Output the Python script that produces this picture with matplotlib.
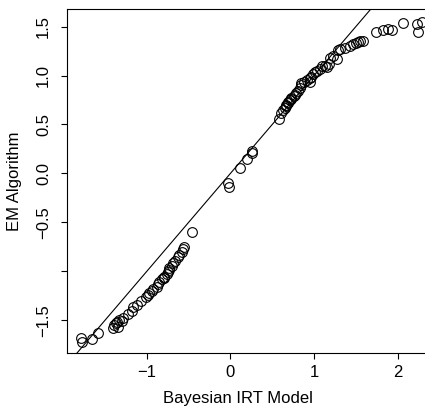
import numpy as np
import matplotlib
matplotlib.use('Agg')
import matplotlib.pyplot as plt

# Ability estimates: Bayesian IRT model vs. EM algorithm
bayes = [-1.79, -1.78, -1.66, -1.59, -1.41, -1.39, -1.35, -1.36, -1.37, -1.33,
         -1.30, -1.29, -1.23, -1.18, -1.16, -1.12, -1.07, -1.01, -0.99, -0.98,
         -0.94, -0.93, -0.88, -0.87, -0.85, -0.82, -0.80, -0.80, -0.76, -0.75,
         -0.74, -0.73, -0.70, -0.69, -0.66, -0.63, -0.61, -0.58, -0.57, -0.55,
         -0.46,
         -0.03, -0.02, 0.11, 0.20, 0.26, 0.26,
         0.58, 0.60, 0.63, 0.65, 0.66, 0.67, 0.69, 0.69, 0.71, 0.72,
         0.73, 0.76, 0.77, 0.79, 0.81, 0.83, 0.84, 0.85, 0.88, 0.91,
         0.95, 0.95, 0.96, 0.99, 1.01, 1.03, 1.07, 1.09, 1.13, 1.15,
         1.18, 1.19, 1.23, 1.27, 1.29, 1.31, 1.37, 1.43, 1.47, 1.50,
         1.53, 1.55, 1.59, 1.74, 1.82, 1.88, 1.93, 2.06, 2.23, 2.24, 2.29]
em = [-1.68, -1.72, -1.69, -1.63, -1.58, -1.55, -1.57, -1.52, -1.53, -1.50,
      -1.51, -1.48, -1.44, -1.41, -1.37, -1.34, -1.30, -1.26, -1.24, -1.22,
      -1.20, -1.18, -1.16, -1.13, -1.11, -1.08, -1.06, -1.07, -1.03, -1.01,
      -0.99, -0.97, -0.95, -0.92, -0.89, -0.85, -0.83, -0.80, -0.77, -0.75,
      -0.60,
      -0.10, -0.14, 0.06, 0.15, 0.21, 0.23,
      0.56, 0.62, 0.65, 0.67, 0.70, 0.69, 0.72, 0.73, 0.75, 0.76,
      0.77, 0.79, 0.80, 0.82, 0.84, 0.87, 0.90, 0.92, 0.93, 0.95,
      0.97, 0.93, 0.99, 1.02, 1.04, 1.05, 1.07, 1.10, 1.10, 1.09,
      1.12, 1.18, 1.20, 1.17, 1.26, 1.27, 1.28, 1.30, 1.32, 1.33,
      1.34, 1.35, 1.35, 1.44, 1.47, 1.48, 1.47, 1.54, 1.53, 1.44, 1.55]

xticks = [-1, 0, 1, 2]
xtick_labels = ['\u22121', '0', '1', '2']
yticks = [-1.5, -1.0, -0.5, 0.0, 0.5, 1.0, 1.5]
ytick_labels = ['\u22121.5', '', '\u22120.5', '0.0', '0.5', '1.0', '1.5']

plt.rcParams['font.family'] = ['Liberation Sans', 'DejaVu Sans']

fig = plt.figure(figsize=(4.25, 4.13), dpi=100)
ax = fig.add_axes([67 / 425, 60 / 413, 372 / 425, 344 / 413])

ax.plot(bayes, em, 'o', mfc='none', mec='black', ms=7, mew=0.8)
ax.axline((0, 0), slope=1, color='black', lw=0.8)

ax.set_xlim(-1.955, 2.495)
ax.set_ylim(-1.835, 1.68)

ax.set_xticks(xticks)
ax.set_xticklabels(xtick_labels)
ax.set_yticks(yticks)
ax.set_yticklabels(ytick_labels, rotation=90, va='center')
ax.tick_params(direction='out', length=4.5, width=0.8, labelsize=12)
ax.tick_params(axis='x', pad=4)
ax.tick_params(axis='y', pad=7)

ax.set_xlabel('Bayesian IRT Model', fontsize=12)
ax.set_ylabel('EM Algorithm', fontsize=12, labelpad=10)
ax.xaxis.set_label_coords(0.46, -0.131, transform=ax.transAxes)
ax.xaxis.label.set_va('center')

for s in ax.spines.values():
    s.set_linewidth(0.8)

fig.savefig('out.png', dpi=100)
